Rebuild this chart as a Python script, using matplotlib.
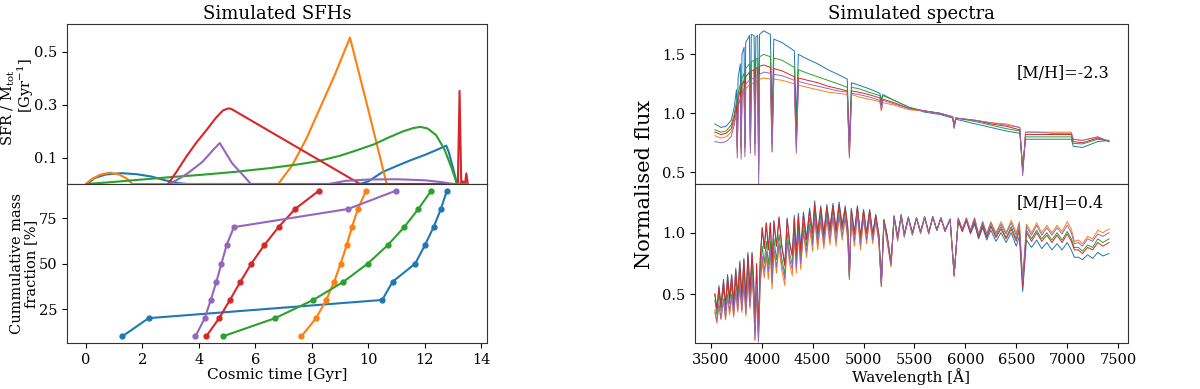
import matplotlib
matplotlib.use('Agg')
import matplotlib.pyplot as plt

plt.rcParams['font.family'] = ['DejaVu Serif']
plt.rcParams['mathtext.fontset'] = 'dejavuserif'
plt.rcParams['axes.edgecolor'] = '#333333'

colors = ['tab:blue', 'tab:orange', 'tab:green', 'tab:red', 'tab:purple']

# star formation histories (time in Gyr, SFR / M_tot in 1/Gyr)
sfh_t_blue = [0.05, 0.3, 0.7, 1.27, 1.8, 2.33, 2.8, 3.3, 3.6, 9.7, 10.0, 10.5, 11.0, 11.5, 12.0, 12.4, 12.65, 12.76, 12.85, 13.0, 13.14, 13.5]
sfh_blue = [0.0, 0.022, 0.036, 0.041, 0.037, 0.028, 0.014, 0.003, 0.0, 0.0, 0.01, 0.045, 0.068, 0.09, 0.11, 0.128, 0.14, 0.145, 0.12, 0.06, 0.0, 0.0]
sfh_t_orange = [0.0, 0.2, 0.5, 0.85, 1.2, 1.45, 1.65, 6.81, 7.3, 7.8, 8.3, 8.8, 9.35, 10.0, 10.65, 13.5]
sfh_orange = [0.0, 0.018, 0.035, 0.043, 0.035, 0.02, 0.0, 0.0, 0.07, 0.17, 0.29, 0.41, 0.554, 0.28, 0.0, 0.0]
sfh_t_green = [0.04, 1.0, 2.0, 3.0, 4.0, 5.2, 6.5, 7.5, 8.2, 9.0, 9.6, 10.2, 10.7, 11.2, 11.6, 11.85, 12.1, 12.4, 12.7, 12.95, 13.14, 13.5]
sfh_green = [0.0, 0.008, 0.017, 0.026, 0.034, 0.045, 0.06, 0.074, 0.086, 0.107, 0.128, 0.15, 0.175, 0.198, 0.212, 0.216, 0.21, 0.185, 0.13, 0.06, 0.0, 0.0]
sfh_t_red = [2.91, 3.2, 3.56, 3.9, 4.27, 4.6, 4.85, 5.04, 5.15, 9.71, 13.1, 13.17, 13.23, 13.29, 13.35, 13.42, 13.47, 13.52]
sfh_red = [0.0, 0.045, 0.104, 0.155, 0.204, 0.25, 0.278, 0.286, 0.284, 0.0, 0.0, 0.0, 0.352, 0.0, 0.01, 0.0, 0.04, 0.0]
sfh_t_purple = [2.96, 3.3, 3.6, 4.13, 4.55, 4.74, 5.18, 5.61, 5.84, 8.6, 9.2, 10.0, 11.0, 12.0, 12.6, 13.0, 13.5]
sfh_purple = [0.0, 0.02, 0.04, 0.084, 0.134, 0.155, 0.078, 0.028, 0.0, 0.0, 0.012, 0.017, 0.018, 0.014, 0.007, 0.0, 0.0]

# cumulative mass fraction: time (Gyr) when each fraction is reached
mass_frac = [10, 20, 30, 40, 50, 60, 70, 80, 90]
cum_blue = [1.29, 2.22, 10.49, 10.86, 11.66, 12.0, 12.31, 12.57, 12.78]
cum_orange = [7.63, 8.15, 8.51, 8.79, 9.02, 9.23, 9.42, 9.63, 9.92]
cum_green = [4.85, 6.70, 8.05, 9.12, 9.98, 10.68, 11.27, 11.77, 12.23]
cum_red = [4.26, 4.72, 5.10, 5.47, 5.86, 6.31, 6.82, 7.41, 8.25]
cum_purple = [3.88, 4.21, 4.42, 4.62, 4.80, 4.98, 5.24, 9.29, 10.97]

# spectra for [M/H]=-2.3 (normalised flux)
wave_top = [3540, 3600, 3650, 3700, 3730, 3752, 3760, 3768, 3790, 3798, 3806, 3827, 3835, 3843, 3880, 3889, 3898,
            3925, 3934, 3943, 3961, 3970, 3979, 4020, 4085, 4102, 4119, 4200, 4320, 4340, 4360, 4450, 4550, 4650,
            4750, 4840, 4861, 4882, 4950, 5050, 5160, 5175, 5190, 5300, 5450, 5600, 5750, 5875, 5890, 5905, 6100,
            6250, 6400, 6535, 6563, 6591, 6700, 6850, 7040, 7060, 7150, 7300, 7410]
top_blue = [0.91, 0.88, 0.89, 0.94, 1.05, 1.20, 0.80, 1.30, 1.42, 0.82, 1.50, 1.56, 0.85, 1.60, 1.66, 0.88, 1.67,
            1.66, 1.05, 1.65, 1.66, 0.70, 1.67, 1.70, 1.67, 0.95, 1.63, 1.60, 1.53, 0.95, 1.50, 1.46, 1.42, 1.37,
            1.33, 1.29, 0.75, 1.26, 1.24, 1.21, 1.17, 1.12, 1.16, 1.11, 1.05, 1.01, 0.99, 0.96, 0.90, 0.95, 0.91,
            0.88, 0.85, 0.83, 0.55, 0.78, 0.78, 0.78, 0.78, 0.72, 0.71, 0.76, 0.77]
top_orange = [0.81, 0.79, 0.80, 0.84, 0.93, 1.02, 0.66, 1.07, 1.12, 0.66, 1.15, 1.18, 0.67, 1.21, 1.24, 0.70, 1.25,
              1.26, 0.66, 1.27, 1.28, 0.48, 1.29, 1.30, 1.29, 0.68, 1.29, 1.28, 1.25, 0.70, 1.24, 1.22, 1.20, 1.18,
              1.17, 1.16, 0.64, 1.16, 1.14, 1.12, 1.10, 1.02, 1.09, 1.07, 1.03, 1.02, 1.00, 0.97, 0.88, 0.96, 0.94,
              0.92, 0.91, 0.88, 0.50, 0.84, 0.84, 0.84, 0.84, 0.78, 0.77, 0.80, 0.76]
top_green = [0.86, 0.84, 0.85, 0.90, 0.99, 1.10, 0.72, 1.16, 1.25, 0.72, 1.30, 1.34, 0.74, 1.38, 1.42, 0.76, 1.44,
             1.45, 0.80, 1.46, 1.47, 0.58, 1.48, 1.50, 1.48, 0.80, 1.47, 1.45, 1.39, 0.80, 1.37, 1.34, 1.31, 1.28,
             1.25, 1.22, 0.70, 1.22, 1.21, 1.18, 1.15, 1.10, 1.15, 1.11, 1.05, 1.02, 1.00, 0.97, 0.89, 0.96, 0.93,
             0.90, 0.87, 0.85, 0.52, 0.80, 0.80, 0.80, 0.80, 0.745, 0.74, 0.78, 0.77]
top_red = [0.84, 0.82, 0.83, 0.87, 0.96, 1.06, 0.70, 1.12, 1.20, 0.70, 1.24, 1.28, 0.71, 1.31, 1.35, 0.73, 1.36,
           1.37, 0.74, 1.38, 1.39, 0.52, 1.40, 1.41, 1.39, 0.74, 1.38, 1.36, 1.31, 0.74, 1.30, 1.28, 1.26, 1.23,
           1.21, 1.19, 0.66, 1.19, 1.18, 1.16, 1.13, 1.07, 1.12, 1.09, 1.04, 1.02, 1.00, 0.97, 0.88, 0.96, 0.94,
           0.91, 0.89, 0.86, 0.50, 0.82, 0.82, 0.82, 0.82, 0.76, 0.75, 0.79, 0.76]
top_purple = [0.76, 0.75, 0.76, 0.80, 0.90, 1.00, 0.62, 1.06, 1.13, 0.61, 1.17, 1.21, 0.63, 1.25, 1.28, 0.66, 1.29,
              1.30, 0.64, 1.31, 1.32, 0.38, 1.33, 1.35, 1.34, 0.67, 1.33, 1.32, 1.28, 0.66, 1.27, 1.25, 1.23, 1.21,
              1.19, 1.18, 0.62, 1.17, 1.16, 1.14, 1.11, 1.03, 1.11, 1.08, 1.04, 1.02, 1.00, 0.97, 0.87, 0.96, 0.94,
              0.92, 0.90, 0.88, 0.47, 0.84, 0.84, 0.83, 0.83, 0.78, 0.77, 0.80, 0.76]

# spectra for [M/H]=0.4 (normalised flux)
wave_bot = [3540, 3560, 3580, 3600, 3625, 3645, 3665, 3685, 3705, 3725, 3745, 3765, 3785, 3805, 3825, 3845, 3865, 3885,
            3905, 3920, 3934, 3950, 3968, 3985,
            4005, 4025, 4045, 4065, 4085, 4102, 4120, 4145, 4170, 4195, 4227, 4250, 4275, 4300, 4320, 4340, 4360, 4383,
            4410, 4440, 4470, 4500, 4520, 4550, 4580, 4610, 4640,
            4670, 4700, 4730, 4760, 4790, 4820, 4845, 4861, 4880, 4910, 4940, 4970, 5000, 5030, 5060, 5090, 5120, 5150,
            5175, 5200, 5230, 5270, 5300, 5335, 5370, 5400, 5440, 5480, 5520, 5560, 5600, 5640, 5680, 5720, 5760, 5800,
            5850, 5890,
            5930, 5970, 6010, 6050, 6090, 6130, 6170, 6210, 6250, 6300, 6350, 6400, 6450, 6500, 6530, 6563, 6600, 6650,
            6700, 6750, 6800, 6850, 6900, 6950, 7000, 7040, 7070, 7110, 7150, 7200, 7250, 7300, 7350, 7410]
bot_blue = [0.50, 0.37, 0.57, 0.41, 0.62, 0.40, 0.66, 0.47, 0.66, 0.43, 0.71, 0.49, 0.77, 0.48, 0.79, 0.45, 0.84, 0.52,
            0.84, 0.63, 0.22, 0.75, 0.20, 0.78,
            1.04, 0.87, 1.08, 0.86, 1.08, 0.74, 1.10, 0.89, 1.13, 0.91, 0.74, 1.12, 0.92, 0.82, 1.14, 0.83, 1.16, 0.86,
            1.17, 0.95, 1.20, 1.00, 1.26, 1.01, 1.22, 1.00, 1.23,
            1.04, 1.24, 1.03, 1.25, 1.06, 1.22, 1.05, 0.66, 1.20, 1.00, 1.22, 0.97, 1.19, 1.00, 1.19, 0.99, 1.15, 0.99,
            0.60, 1.11, 0.99, 0.76, 1.14, 0.97, 1.15, 0.99, 1.13, 1.00, 1.12, 1.01, 1.13, 1.00, 1.13, 1.02, 1.12, 1.02,
            1.11, 0.66,
            1.10, 1.01, 1.10, 0.99, 1.07, 0.95, 1.04, 0.94, 1.02, 0.93, 1.00, 0.92, 1.00, 0.89, 0.97, 0.52, 0.94, 0.88,
            0.94, 0.87, 0.92, 0.86, 0.91, 0.86, 0.92, 0.86, 0.80, 0.80, 0.78, 0.82, 0.79, 0.84, 0.81, 0.83]
bot_orange = [0.35, 0.26, 0.40, 0.29, 0.44, 0.29, 0.47, 0.33, 0.47, 0.31, 0.51, 0.35, 0.55, 0.35, 0.57, 0.32, 0.61, 0.38,
              0.61, 0.46, 0.12, 0.55, 0.11, 0.56,
              0.76, 0.63, 0.81, 0.62, 0.83, 0.54, 0.85, 0.67, 0.89, 0.70, 0.57, 0.92, 0.74, 0.65, 0.96, 0.67, 0.99, 0.70,
              1.00, 0.80, 1.04, 0.85, 1.11, 0.86, 1.08, 0.87, 1.11,
              0.90, 1.12, 0.89, 1.13, 0.94, 1.11, 0.94, 0.62, 1.11, 0.89, 1.14, 0.86, 1.11, 0.91, 1.12, 0.91, 1.09, 0.92,
              0.56, 1.07, 0.93, 0.72, 1.12, 0.93, 1.14, 0.96, 1.12, 0.98, 1.12, 0.99, 1.13, 0.99, 1.13, 1.02, 1.12, 1.01,
              1.11, 0.64,
              1.12, 1.03, 1.12, 1.02, 1.12, 0.98, 1.09, 0.99, 1.09, 1.00, 1.09, 1.00, 1.10, 1.00, 1.09, 0.62, 1.07, 1.00,
              1.08, 1.00, 1.06, 1.00, 1.06, 1.01, 1.09, 1.03, 0.93, 0.94, 0.91, 0.97, 0.95, 1.02, 1.00, 1.03]
bot_green = [0.45, 0.33, 0.51, 0.36, 0.55, 0.36, 0.59, 0.42, 0.58, 0.38, 0.63, 0.43, 0.68, 0.43, 0.69, 0.39, 0.74, 0.46,
             0.73, 0.55, 0.17, 0.66, 0.15, 0.68,
             0.89, 0.75, 0.93, 0.74, 0.93, 0.64, 0.95, 0.78, 0.99, 0.80, 0.66, 1.01, 0.83, 0.74, 1.04, 0.76, 1.07, 0.79,
             1.08, 0.89, 1.12, 0.94, 1.18, 0.95, 1.15, 0.95, 1.17,
             0.99, 1.19, 0.99, 1.20, 1.02, 1.18, 1.02, 0.64, 1.17, 0.98, 1.20, 0.95, 1.17, 0.99, 1.17, 0.98, 1.13, 0.98,
             0.58, 1.10, 0.98, 0.75, 1.13, 0.96, 1.14, 0.98, 1.12, 1.00, 1.12, 1.01, 1.13, 1.00, 1.13, 1.02, 1.12, 1.02,
             1.11, 0.66,
             1.11, 1.02, 1.11, 1.01, 1.10, 0.97, 1.07, 0.97, 1.06, 0.97, 1.05, 0.96, 1.05, 0.95, 1.04, 0.58, 1.02, 0.95,
             1.02, 0.95, 1.00, 0.94, 1.00, 0.94, 1.01, 0.95, 0.88, 0.88, 0.85, 0.90, 0.88, 0.95, 0.92, 0.95]
bot_red = [0.50, 0.38, 0.55, 0.40, 0.60, 0.41, 0.64, 0.46, 0.65, 0.42, 0.69, 0.48, 0.75, 0.48, 0.78, 0.45, 0.82, 0.51,
           0.83, 0.62, 0.20, 0.74, 0.18, 0.77,
           1.04, 0.87, 1.08, 0.86, 1.08, 0.74, 1.09, 0.89, 1.12, 0.90, 0.73, 1.11, 0.91, 0.81, 1.12, 0.81, 1.14, 0.85,
           1.15, 0.94, 1.18, 0.99, 1.23, 0.99, 1.20, 0.98, 1.21,
           1.02, 1.22, 1.01, 1.23, 1.05, 1.20, 1.04, 0.65, 1.19, 0.99, 1.21, 0.96, 1.18, 0.99, 1.18, 0.98, 1.14, 0.98,
           0.58, 1.10, 0.98, 0.75, 1.13, 0.96, 1.14, 0.98, 1.12, 0.99, 1.12, 1.00, 1.12, 1.00, 1.13, 1.02, 1.12, 1.01,
           1.11, 0.65,
           1.10, 1.01, 1.10, 1.00, 1.09, 0.96, 1.06, 0.96, 1.05, 0.96, 1.03, 0.95, 1.03, 0.93, 1.02, 0.56, 1.00, 0.93,
           1.00, 0.93, 0.98, 0.92, 0.98, 0.92, 0.99, 0.93, 0.86, 0.86, 0.83, 0.88, 0.86, 0.92, 0.89, 0.92]
bot_purple = [0.37, 0.28, 0.43, 0.30, 0.46, 0.30, 0.50, 0.36, 0.50, 0.33, 0.54, 0.37, 0.59, 0.37, 0.60, 0.34, 0.65, 0.40,
              0.65, 0.49, 0.13, 0.58, 0.11, 0.60,
              0.81, 0.68, 0.85, 0.68, 0.86, 0.59, 0.88, 0.72, 0.92, 0.75, 0.62, 0.94, 0.78, 0.70, 0.98, 0.71, 1.01, 0.75,
              1.02, 0.84, 1.07, 0.90, 1.13, 0.91, 1.10, 0.91, 1.13,
              0.94, 1.14, 0.93, 1.15, 0.97, 1.13, 0.97, 0.62, 1.13, 0.93, 1.16, 0.90, 1.13, 0.94, 1.13, 0.94, 1.10, 0.94,
              0.56, 1.08, 0.95, 0.73, 1.12, 0.94, 1.14, 0.97, 1.12, 0.98, 1.12, 1.00, 1.13, 0.99, 1.13, 1.02, 1.12, 1.01,
              1.11, 0.65,
              1.12, 1.03, 1.12, 1.02, 1.12, 0.99, 1.09, 0.99, 1.08, 0.99, 1.07, 0.99, 1.08, 0.98, 1.07, 0.60, 1.05, 0.98,
              1.06, 0.98, 1.04, 0.98, 1.04, 0.99, 1.06, 1.00, 0.91, 0.92, 0.89, 0.95, 0.93, 0.99, 0.97, 1.00]

sfh_t = [sfh_t_blue, sfh_t_orange, sfh_t_green, sfh_t_red, sfh_t_purple]
sfh = [sfh_blue, sfh_orange, sfh_green, sfh_red, sfh_purple]
cum = [cum_blue, cum_orange, cum_green, cum_red, cum_purple]
top_spec = [top_blue, top_orange, top_green, top_red, top_purple]
bot_spec = [bot_blue, bot_orange, bot_green, bot_red, bot_purple]

fig = plt.figure(figsize=(12, 3.89), dpi=100)
ax1 = fig.add_axes([0.0558, 0.527, 0.35, 0.411])
ax2 = fig.add_axes([0.0558, 0.118, 0.35, 0.409], sharex=ax1)
ax3 = fig.add_axes([0.579, 0.527, 0.361, 0.411])
ax4 = fig.add_axes([0.579, 0.118, 0.361, 0.409], sharex=ax3)

# left: SFHs and cumulative mass
for i in range(5):
    ax1.plot(sfh_t[i], sfh[i], color=colors[i], lw=1.5)
    ax2.plot(cum[i], mass_frac, color=colors[i], lw=1.5, marker='o', ms=3.5)
ax1.set_ylim(0, 0.605)
ax1.set_yticks([0.1, 0.3, 0.5])
ax1.set_xlim(-0.67, 14.2)
ax1.tick_params(axis='x', bottom=False, labelbottom=False)
ax1.set_title('Simulated SFHs', fontsize=13, pad=4)
# two-line y label of the SFH panel, second line sits at the top end like in the original
fig.text(8 / 1200, 1 - 108 / 389, 'SFR / M$_{\\rm tot}$', rotation=90, fontsize=10.5, ha='center', va='center')
fig.text(26 / 1200, 1 - 86 / 389, '[Gyr$^{-1}$]', rotation=90, fontsize=10.5, ha='center', va='center')
ax2.set_ylim(6.3, 93.7)
ax2.set_yticks([25, 50, 75])
ax2.set_xticks(range(0, 15, 2))
ax2.set_xlabel('Cosmic time [Gyr]', fontsize=11, labelpad=1)
ax2.set_ylabel('Cummulative mass\nfraction [%]', fontsize=10.5, linespacing=1.05)
ax2.yaxis.set_label_coords(-0.068, 0.5)

# right: spectra
for i in range(5):
    ax3.plot(wave_top, top_spec[i], color=colors[i], lw=0.7)
    ax4.plot(wave_bot, bot_spec[i], color=colors[i], lw=0.7)
ax3.set_xlim(3343, 7597)
ax3.set_ylim(0.40, 1.757)
ax3.set_yticks([0.5, 1.0, 1.5])
ax3.tick_params(axis='x', bottom=False, labelbottom=False)
ax3.set_title('Simulated spectra', fontsize=13, pad=4)
ax3.text(0.744, 0.69, '[M/H]=-2.3', transform=ax3.transAxes, fontsize=11.5, va='center')
ax4.set_ylim(0.10, 1.397)
ax4.set_yticks([0.5, 1.0])
ax4.set_xticks(range(3500, 7501, 500))
ax4.set_xlabel('Wavelength [Å]', fontsize=11, labelpad=1)
ax4.text(0.744, 0.88, '[M/H]=0.4', transform=ax4.transAxes, fontsize=11.5, va='center')
fig.text(0.5375, 0.527, 'Normalised flux', rotation=90, fontsize=15, ha='center', va='center')

for ax in [ax1, ax2, ax3, ax4]:
    ax.tick_params(labelsize=10.5)

plt.savefig('out.png', dpi=100)
